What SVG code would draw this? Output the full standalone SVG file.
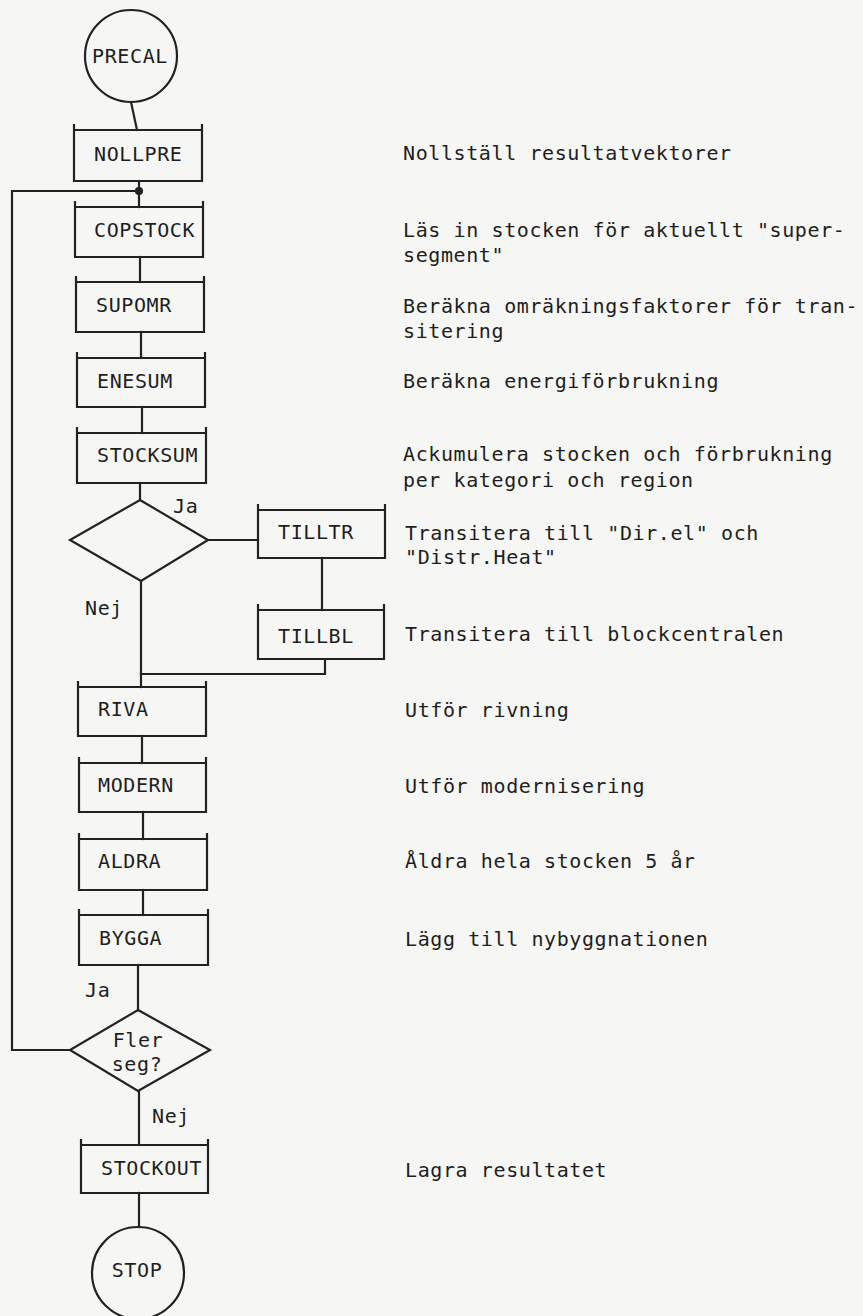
<svg xmlns="http://www.w3.org/2000/svg" width="863" height="1316" viewBox="0 0 863 1316">
<style>
.s{fill:none;stroke:#222;stroke-width:2.2;stroke-linecap:square}
.t{font-family:"DejaVu Sans Mono","Liberation Mono",monospace;font-size:20px;letter-spacing:0.6px;fill:#1e1e1e}
.c{text-anchor:middle}
</style>
<rect width="863" height="1316" fill="#f6f6f4"/>
<g id="connectors" class="s">
<path d="M131,102 L137,130"/>
<path d="M139,181 V207"/>
<circle cx="139" cy="191" r="3" fill="#222"/>
<path d="M139,191 H12 V1050 H70"/>
<path d="M140,257 V282"/>
<path d="M141,332 V358"/>
<path d="M142,407 V433"/>
<path d="M140,483 V500"/>
<path d="M208,540 H258"/>
<path d="M322,558 V610"/>
<path d="M325,659 V674 H141"/>
<path d="M141,581 V687"/>
<path d="M142,736 V763"/>
<path d="M143,812 V839"/>
<path d="M143,890 V915"/>
<path d="M138,965 V1010"/>
<path d="M139,1091 V1145"/>
<path d="M139,1193 V1227"/>
</g>
<g id="PRECAL">
<circle class="s" cx="131" cy="56" r="46"/>
<text class="t c" x="130" y="63">PRECAL</text>
</g>
<g id="NOLLPRE">
<path class="s" d="M74,125 V181 H202 V125 M74,130 H202"/>
<text class="t" x="94" y="161">NOLLPRE</text>
</g>
<g id="COPSTOCK">
<path class="s" d="M75,202 V257 H203 V202 M75,207 H203"/>
<text class="t" x="94" y="237">COPSTOCK</text>
</g>
<g id="SUPOMR">
<path class="s" d="M76,277 V332 H204 V277 M76,282 H204"/>
<text class="t" x="96" y="312">SUPOMR</text>
</g>
<g id="ENESUM">
<path class="s" d="M77,353 V407 H205 V353 M77,358 H205"/>
<text class="t" x="97" y="388">ENESUM</text>
</g>
<g id="STOCKSUM">
<path class="s" d="M77,428 V483 H206 V428 M77,433 H206"/>
<text class="t" x="97" y="462">STOCKSUM</text>
</g>
<g id="decision1">
<path class="s" d="M140,500 L208,540 L141,581 L70,540 Z"/>
<text class="t" x="173" y="513">Ja</text>
<text class="t" x="85" y="615">Nej</text>
</g>
<g id="TILLTR">
<path class="s" d="M258,505 V558 H385 V505 M258,510 H385"/>
<text class="t" x="278" y="539">TILLTR</text>
</g>
<g id="TILLBL">
<path class="s" d="M258,605 V659 H384 V605 M258,610 H384"/>
<text class="t" x="278" y="643">TILLBL</text>
</g>
<g id="RIVA">
<path class="s" d="M78,682 V736 H206 V682 M78,687 H206"/>
<text class="t" x="98" y="716">RIVA</text>
</g>
<g id="MODERN">
<path class="s" d="M79,758 V812 H206 V758 M79,763 H206"/>
<text class="t" x="98" y="792">MODERN</text>
</g>
<g id="ALDRA">
<path class="s" d="M79,834 V890 H207 V834 M79,839 H207"/>
<text class="t" x="98" y="868">ALDRA</text>
</g>
<g id="BYGGA">
<path class="s" d="M79,910 V965 H208 V910 M79,915 H208"/>
<text class="t" x="99" y="945">BYGGA</text>
</g>
<g id="decision2">
<path class="s" d="M138,1010 L210,1050 L138,1091 L70,1050 Z"/>
<text class="t c" x="138" y="1047">Fler</text>
<text class="t c" x="137" y="1071">seg?</text>
<text class="t" x="85" y="997">Ja</text>
<text class="t" x="152" y="1123">Nej</text>
</g>
<g id="STOCKOUT">
<path class="s" d="M81,1140 V1193 H208 V1140 M81,1145 H208"/>
<text class="t" x="101" y="1175">STOCKOUT</text>
</g>
<g id="STOP">
<circle class="s" cx="138" cy="1273" r="46"/>
<text class="t c" x="137" y="1277">STOP</text>
</g>
<g id="descriptions">
<text class="t" x="403" y="160">Nollställ resultatvektorer</text>
<text class="t" x="403" y="237">Läs in stocken för aktuellt "super-</text>
<text class="t" x="403" y="262">segment"</text>
<text class="t" x="403" y="313">Beräkna omräkningsfaktorer för tran-</text>
<text class="t" x="403" y="338">sitering</text>
<text class="t" x="403" y="388">Beräkna energiförbrukning</text>
<text class="t" x="403" y="461">Ackumulera stocken och förbrukning</text>
<text class="t" x="403" y="487">per kategori och region</text>
<text class="t" x="405" y="540">Transitera till "Dir.el" och</text>
<text class="t" x="405" y="564">"Distr.Heat"</text>
<text class="t" x="405" y="641">Transitera till blockcentralen</text>
<text class="t" x="405" y="717">Utför rivning</text>
<text class="t" x="405" y="793">Utför modernisering</text>
<text class="t" x="405" y="868">Åldra hela stocken 5 år</text>
<text class="t" x="405" y="946">Lägg till nybyggnationen</text>
<text class="t" x="405" y="1177">Lagra resultatet</text>
</g>
</svg>
